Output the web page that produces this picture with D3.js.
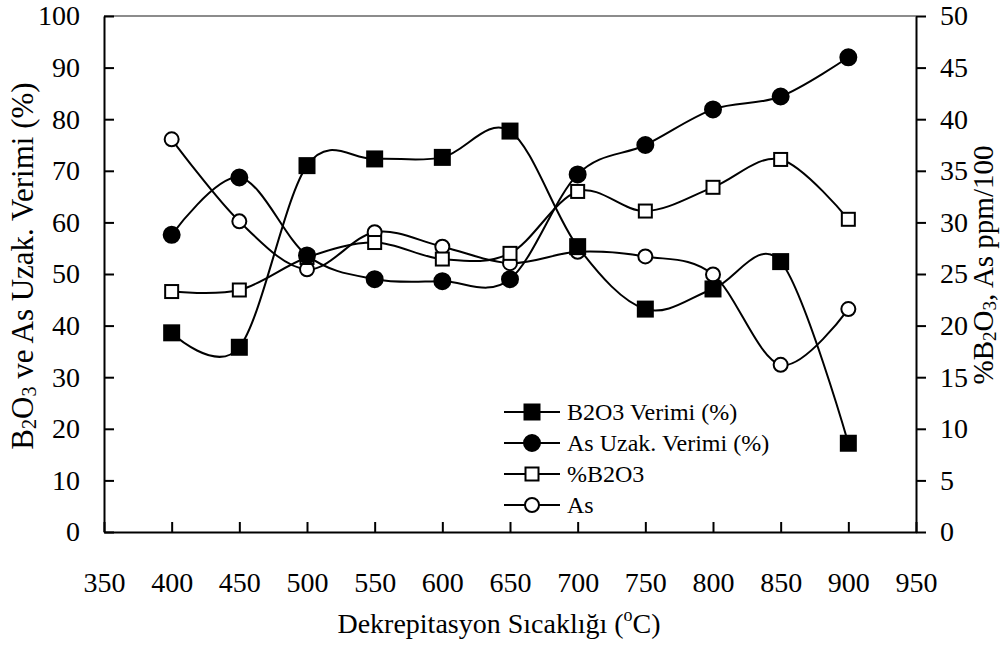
<!DOCTYPE html>
<html>
<head>
<meta charset="utf-8">
<script src="https://cdn.jsdelivr.net/npm/d3@7"></script>
<style>
  body { margin: 0; background: #fff; }
  svg text { font-family: "Liberation Serif", "DejaVu Serif", serif; fill: #000; }
</style>
</head>
<body>
<div id="chart"></div>
<script>
var temps = [400, 450, 500, 550, 600, 650, 700, 750, 800, 850, 900];
var b2o3Verim = [38.6, 35.8, 71.0, 72.3, 72.6, 77.7, 55.3, 43.2, 47.1, 52.4, 17.2];
var asVerim = [57.6, 68.7, 53.6, 49.0, 48.6, 49.0, 69.3, 75.0, 81.9, 84.4, 92.0];
var yuzdeB2o3 = [23.3, 23.45, 26.6, 28.05, 26.45, 27.0, 33.0, 31.1, 33.4, 36.1, 30.3];
var asPpm = [38.05, 30.1, 25.45, 29.05, 27.65, 26.05, 27.15, 26.7, 24.95, 16.2, 21.6];
var xTicks = [350, 400, 450, 500, 550, 600, 650, 700, 750, 800, 850, 900, 950];
var leftTicks = [0, 10, 20, 30, 40, 50, 60, 70, 80, 90, 100];
var rightTicks = [0, 5, 10, 15, 20, 25, 30, 35, 40, 45, 50];

var serif = "'Liberation Serif', 'DejaVu Serif', serif";

var margin = {top: 16, right: 88, bottom: 114, left: 104},
    width = 1004 - margin.left - margin.right,
    height = 646 - margin.top - margin.bottom;

var svg = d3.select("#chart")
  .append("svg")
    .attr("width", 1004)
    .attr("height", 646)
    .style("font-family", serif)
  .append("g")
    .attr("transform", "translate(" + margin.left + "," + margin.top + ")");

var x = d3.scaleLinear().domain([350, 950]).range([0, width]);
var yL = d3.scaleLinear().domain([0, 100]).range([height, 0]);
var yR = d3.scaleLinear().domain([0, 50]).range([height, 0]);

// top border
svg.append("line")
  .attr("x1", 0).attr("x2", width).attr("y1", 0).attr("y2", 0)
  .attr("stroke", "#8c8c8c").attr("stroke-width", 2);

var xAxis = svg.append("g")
  .attr("transform", "translate(0," + height + ")")
  .call(d3.axisBottom(x).tickValues(xTicks).tickSizeInner(-10).tickSizeOuter(0).tickPadding(40));
var lAxis = svg.append("g")
  .call(d3.axisLeft(yL).tickValues(leftTicks).tickSizeInner(-10).tickSizeOuter(0).tickPadding(24));
var rAxis = svg.append("g")
  .attr("transform", "translate(" + width + ",0)")
  .call(d3.axisRight(yR).tickValues(rightTicks).tickSizeInner(10).tickSizeOuter(0).tickPadding(14));

[xAxis, lAxis, rAxis].forEach(function(a) {
  a.attr("font-family", null);
  a.selectAll("path, line").attr("stroke", "#000").attr("stroke-width", 2);
  a.selectAll("text").attr("font-size", 28).style("font-family", serif).attr("fill", "#000");
});
xAxis.selectAll("text").attr("dy", 0).attr("y", 60);

// series
var series = [
  {name: "As", vals: asPpm, scale: yR, shape: "circle", fill: "#fff"},
  {name: "%B2O3", vals: yuzdeB2o3, scale: yR, shape: "square", fill: "#fff"},
  {name: "As Uzak. Verimi (%)", vals: asVerim, scale: yL, shape: "circle", fill: "#000"},
  {name: "B2O3 Verimi (%)", vals: b2o3Verim, scale: yL, shape: "square", fill: "#000"}
];

series.forEach(function(s) {
  var line = d3.line()
    .x(function(d, i) { return x(temps[i]); })
    .y(function(d) { return s.scale(d); })
    .curve(d3.curveCardinal.tension(0));
  svg.append("path")
    .attr("d", line(s.vals))
    .attr("fill", "none")
    .attr("stroke", "#000")
    .attr("stroke-width", 2);
});

function marker(g, shape, fill, cx, cy) {
  if (shape === "circle") {
    g.append("circle").attr("cx", cx).attr("cy", cy).attr("r", fill === "#000" ? 8 : 7)
      .attr("fill", fill).attr("stroke", "#000").attr("stroke-width", 2);
  } else {
    var sz = fill === "#000" ? 15 : 13;
    g.append("rect").attr("x", cx - sz / 2).attr("y", cy - sz / 2)
      .attr("width", sz).attr("height", sz)
      .attr("fill", fill).attr("stroke", "#000").attr("stroke-width", 2);
  }
}

series.forEach(function(s) {
  var g = svg.append("g");
  s.vals.forEach(function(v, i) { marker(g, s.shape, s.fill, x(temps[i]), s.scale(v)); });
});

// legend
var legend = svg.append("g").attr("transform", "translate(400,396)");
series.slice().reverse().forEach(function(s, i) {
  var g = legend.append("g").attr("transform", "translate(0," + (i * 31) + ")");
  g.append("line").attr("x1", 0).attr("x2", 56).attr("y1", 0).attr("y2", 0)
    .attr("stroke", "#000").attr("stroke-width", 2);
  marker(g, s.shape, s.fill, 28, 0);
  g.append("text").attr("x", 63).attr("y", 0).attr("dy", "0.35em")
    .attr("font-size", 24).text(s.name);
});

// axis titles
var xt = svg.append("text")
  .attr("x", width / 2 - 11).attr("y", height + 101)
  .attr("text-anchor", "middle").attr("font-size", 28);
xt.append("tspan").text("Dekrepitasyon Sıcaklığı (");
xt.append("tspan").attr("font-size", 18).attr("dy", -12).text("o");
xt.append("tspan").attr("dy", 12).text("C)");

var lt = svg.append("text")
  .attr("transform", "translate(" + (-71) + "," + 250 + ")rotate(-90)")
  .attr("text-anchor", "middle").attr("font-size", 31);
lt.append("tspan").text("B");
lt.append("tspan").attr("font-size", 20).attr("dy", 3).text("2");
lt.append("tspan").attr("dy", -3).text("O");
lt.append("tspan").attr("font-size", 20).attr("dy", 3).text("3");
lt.append("tspan").attr("dy", -3).text(" ve As Uzak. Verimi (%)");

var rt = svg.append("text")
  .attr("transform", "translate(" + (width + 77) + "," + 249 + ")rotate(-90)")
  .attr("text-anchor", "middle").attr("font-size", 29);
rt.append("tspan").text("%B");
rt.append("tspan").attr("font-size", 19).attr("dy", 3).text("2");
rt.append("tspan").attr("dy", -3).text("O");
rt.append("tspan").attr("font-size", 19).attr("dy", 3).text("3");
rt.append("tspan").attr("dy", -3).text(", As ppm/100");
</script>
</body>
</html>
